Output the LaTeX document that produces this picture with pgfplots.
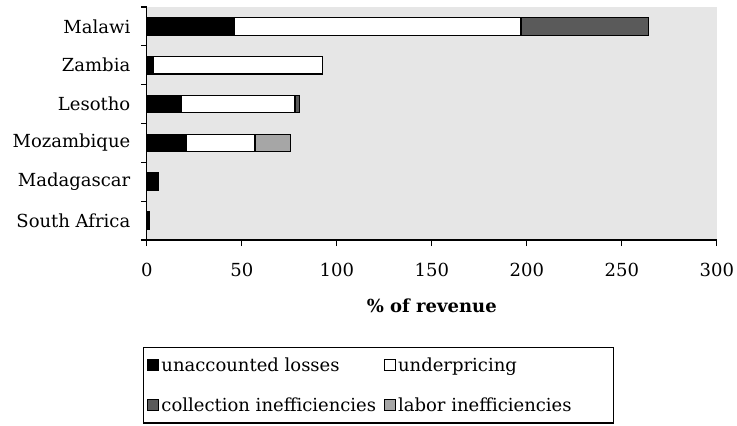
\documentclass[border=0pt]{standalone}
\usepackage{fontspec}
\setmainfont{DejaVu Serif}
\usepackage{pgfplots}
\pgfplotsset{compat=1.18}
\definecolor{plotbg}{RGB}{230,230,230}
\definecolor{collect}{RGB}{90,90,90}
\definecolor{labor}{RGB}{166,166,166}

\begin{document}
\begin{tikzpicture}[font=\fontsize{18}{21}\selectfont]
  % page frame, same proportions as the reference
  \path[use as bounding box] (-146.8pt,-186pt) rectangle (590.2pt,240pt);
  \begin{axis}[xbar stacked, bar width=17.5pt,
      width=570pt, height=233pt, scale only axis,
      xmin=0, xmax=300, ymin=-0.5, ymax=5.5, y dir=reverse,
      xtick={0,50,...,300},
      ytick={-0.5,0.5,...,5.5}, yticklabels={},
      extra y ticks={0,1,2,3,4,5},
      extra y tick labels={Malawi,Zambia,Lesotho,Mozambique,Madagascar,South Africa},
      extra y tick style={major tick length=0pt, yticklabel style={xshift=-13pt}},
      /pgf/number format/assume math mode=true,
      ticklabel style={font=\fontsize{18}{21}\selectfont},
      axis x line*=bottom, axis y line*=left,
      axis line style={line width=1.3pt},
      tick style={black, line width=1.3pt}, major tick length=6pt, tick align=outside,
      axis background/.style={fill=plotbg},
      xticklabel style={yshift=-14pt},
      xlabel={\textbf{\% of revenue}}, xlabel style={yshift=-15pt},
      legend columns=2,
      legend style={at={(0,0)}, anchor=north west, xshift=-4pt, yshift=-107pt,
        draw=black, line width=1.3pt, inner xsep=4pt, inner ysep=8pt,
        row sep=21pt, font=\fontsize{18}{21}\selectfont,
        /tikz/every even column/.append style={column sep=6pt}},
      legend cell align=left,
      legend image code/.code={\draw[#1, line width=1pt] (0pt,-5.5pt) rectangle (11pt,5.5pt);},
    ]
    \addplot[fill=black, draw=black, line width=1.3pt] coordinates
      {(46,0) (3.5,1) (18,2) (21,3) (6,4) (1.3,5)};
    \addplot[fill=white, draw=black, line width=1.3pt] coordinates
      {(151,0) (89,1) (60,2) (36,3) (0,4) (0,5)};
    \addplot[fill=collect, draw=black, line width=1.3pt] coordinates
      {(67,0) (0,1) (2.2,2) (0,3) (0,4) (0,5)};
    \addplot[fill=labor, draw=black, line width=1.3pt] coordinates
      {(0,0) (0,1) (0,2) (18.5,3) (0,4) (0,5)};
    \legend{unaccounted losses, underpricing, collection inefficiencies,
      labor inefficiencies\hspace*{36pt}}
  \end{axis}
\end{tikzpicture}
\end{document}
